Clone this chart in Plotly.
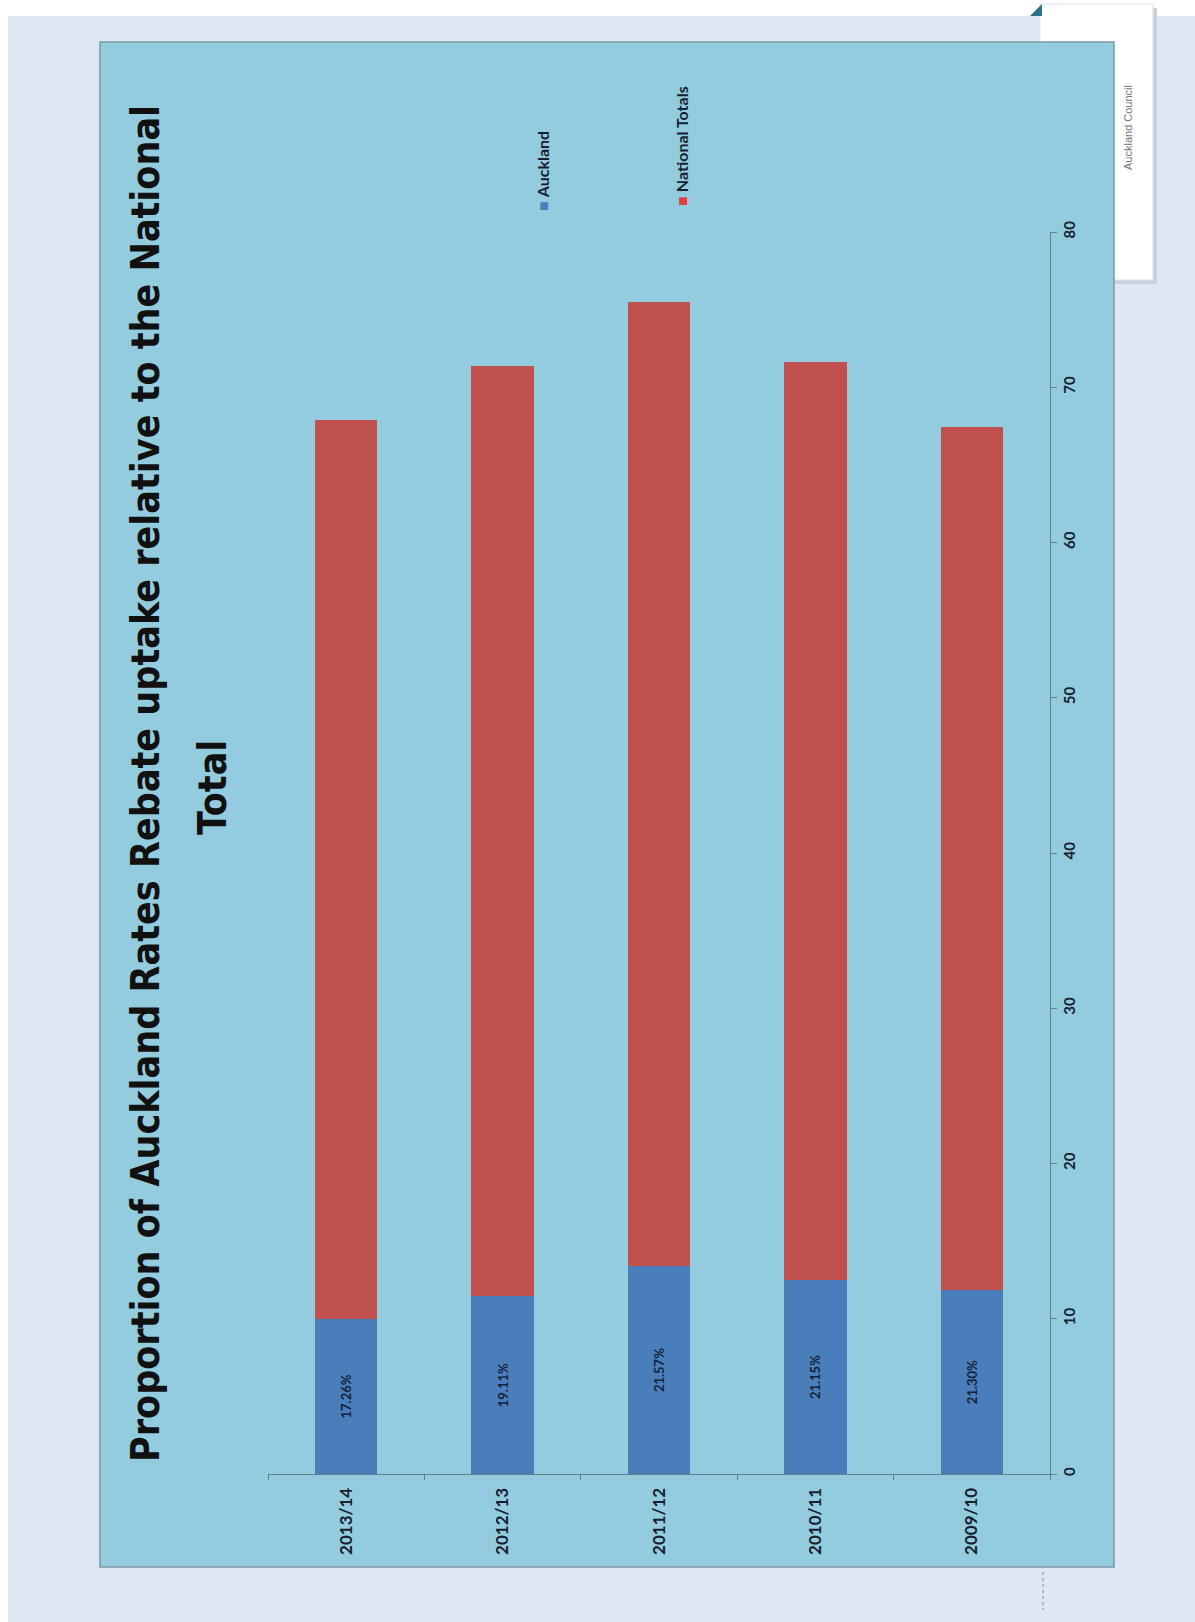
import plotly.graph_objects as go

# ---- data ----
years = ["2013/14", "2012/13", "2011/12", "2010/11", "2009/10"]
auckland = [10.0, 11.45, 13.4, 12.5, 11.85]
national_totals = [57.9, 59.9, 62.1, 59.1, 55.6]
auckland_share_labels = ["17.26%", "19.11%", "21.57%", "21.15%", "21.30%"]
value_ticks = [0, 10, 20, 30, 40, 50, 60, 70, 80]

W, H = 1195, 1622
L, R, T, B = 268, 145, 232, 148
PW, PH = W - L - R, H - T - B


def px(x):
    return (x - L) / PW


def py(y):
    return (H - B - y) / PH


BLUE = "#4A7EBB"
RED = "#C0504D"
PLOT_BG = "#93CCDE"
TXT = "#17202e"
AXIS = "#5f7f8a"
TITLE_FONT = "Liberation Sans Narrow, DejaVu Sans Condensed, Arial Narrow"

fig = go.Figure()
fig.add_trace(go.Bar(
    x=years, y=auckland, name="Auckland", marker=dict(color=BLUE, line=dict(width=0)),
    text=[f"<b>{t}</b>" for t in auckland_share_labels], textposition="inside",
    insidetextanchor="middle", textangle=-90,
    textfont=dict(family="Lato", size=13, color="#14213a"),
    hoverinfo="skip",
))
fig.add_trace(go.Bar(
    x=years, y=national_totals, name="National Totals",
    marker=dict(color=RED, line=dict(width=0)), hoverinfo="skip",
))

shapes = [
    # white page edges
    dict(type="rect", xref="paper", yref="paper", x0=px(0), x1=px(W), y0=py(0), y1=py(16),
         fillcolor="white", line=dict(width=0), layer="below"),
    dict(type="rect", xref="paper", yref="paper", x0=px(0), x1=px(8), y0=py(0), y1=py(H),
         fillcolor="white", line=dict(width=0), layer="below"),
    # tab shadow
    dict(type="rect", xref="paper", yref="paper", x0=px(1044), x1=px(1157), y0=py(8), y1=py(284),
         fillcolor="#c9d1d9", line=dict(width=0), layer="below"),
    # tab
    dict(type="rect", xref="paper", yref="paper", x0=px(1040), x1=px(1153), y0=py(4), y1=py(280),
         fillcolor="white", line=dict(color="#dde3e8", width=1), layer="below"),
    dict(type="path", xref="paper", yref="paper",
         path=f"M {px(1030)} {py(16)} L {px(1042)} {py(4)} L {px(1042)} {py(16)} Z",
         fillcolor="#2e6f8e", line=dict(width=0), layer="below"),
    # chart frame
    dict(type="rect", xref="paper", yref="paper", x0=px(100), x1=px(1114), y0=py(42), y1=py(1567),
         fillcolor=PLOT_BG, line=dict(color="#7d98a2", width=1.5), layer="below"),
    # dotted mark below frame
    dict(type="line", xref="paper", yref="paper", x0=px(1043), x1=px(1043), y0=py(1572), y1=py(1610),
         line=dict(color="#9aaab4", width=1.5, dash="dot"), layer="below"),
]

annotations = [
    dict(text="<b>Proportion of Auckland Rates Rebate uptake relative to the National</b>",
         xref="paper", yref="paper", x=px(145), y=py(784), xanchor="center", yanchor="middle",
         textangle=-90, showarrow=False,
         font=dict(family=TITLE_FONT, size=39, color="#111111")),
    dict(text="<b>Total</b>",
         xref="paper", yref="paper", x=px(212), y=py(788), xanchor="center", yanchor="middle",
         textangle=-90, showarrow=False,
         font=dict(family=TITLE_FONT, size=39, color="#111111")),
    dict(text=f'<span style="color:{BLUE}">■</span> <b>Auckland</b>',
         xref="paper", yref="paper", x=px(542), y=py(171), xanchor="center", yanchor="middle",
         textangle=-90, showarrow=False, font=dict(family="Lato", size=16, color=TXT)),
    dict(text=f'<span style="color:#E03C3C">■</span> <b>National Totals</b>',
         xref="paper", yref="paper", x=px(682), y=py(146), xanchor="center", yanchor="middle",
         textangle=-90, showarrow=False, font=dict(family="Lato", size=16, color=TXT)),
    dict(text="Auckland Council",
         xref="paper", yref="paper", x=px(1128), y=py(128), xanchor="center", yanchor="middle",
         textangle=-90, showarrow=False, font=dict(family="Liberation Sans", size=11, color="#777777")),
]

fig.update_layout(
    width=W, height=H, autosize=False,
    margin=dict(l=L, r=R, t=T, b=B, pad=0),
    paper_bgcolor="#DDE8F4", plot_bgcolor=PLOT_BG,
    barmode="stack", bargap=0.6, showlegend=False,
    shapes=shapes, annotations=annotations,
    xaxis=dict(type="category", categoryorder="array", categoryarray=years, range=[-0.5, 4.5],
               showline=True, linecolor=AXIS, linewidth=1, ticks="outside", tickson="boundaries",
               ticklen=5, tickcolor=AXIS, tickangle=-90, showgrid=False, ticklabelstandoff=6,
               tickfont=dict(family="Lato", size=17, color=TXT, weight="bold")),
    yaxis=dict(range=[0, 80], side="right", tickvals=value_ticks, showline=True, linecolor=AXIS,
               linewidth=1, ticks="outside", ticklen=6, tickcolor=AXIS, tickangle=-90,
               showgrid=False, zeroline=False,
               tickfont=dict(family="Lato", size=15, color=TXT, weight="bold")),
)

fig.write_html(
    "out.html",
    config={"displayModeBar": False},
    post_script="document.body.style.margin='0px';document.body.style.overflow='hidden';",
)
